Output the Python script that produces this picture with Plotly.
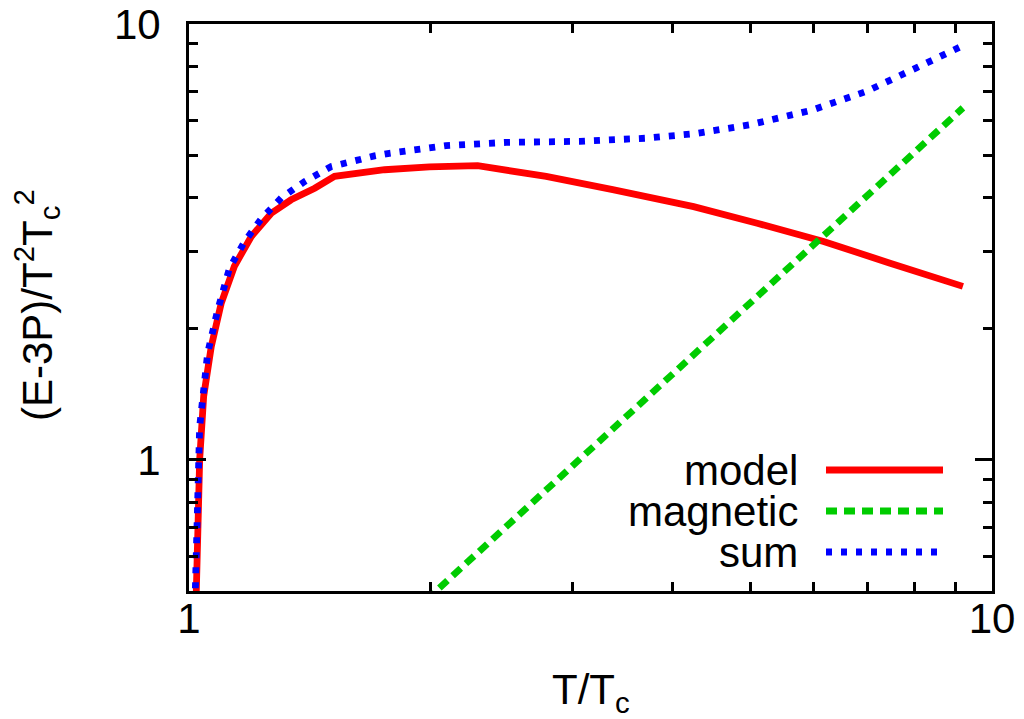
import plotly.graph_objects as go

# ---- data (log-log) ----
model_T = [1.018, 1.0226, 1.027, 1.031, 1.036, 1.043, 1.066, 1.097, 1.139, 1.195, 1.266,
           1.340, 1.434, 1.518, 1.752, 1.993, 2.288, 2.785, 3.37, 4.25, 5.10, 6.17, 7.45, 9.20]
model_v = [0.40, 0.50, 0.75, 1.00, 1.18, 1.40, 1.82, 2.29, 2.78, 3.25, 3.68,
           3.95, 4.20, 4.47, 4.63, 4.70, 4.73, 4.47, 4.17, 3.81, 3.49, 3.17, 2.83, 2.50]

magnetic_T = [1.9, 3.0, 4.0, 5.0, 6.0, 7.0, 8.0, 9.2]
magnetic_v = [0.447, 0.966, 1.571, 2.29, 3.12, 4.04, 5.07, 6.42]

sum_T = [1.015, 1.019, 1.0276, 1.031, 1.055, 1.086, 1.123, 1.173, 1.230, 1.303, 1.393,
         1.504, 1.702, 1.776, 2.09, 2.484, 3.067, 3.71, 4.26, 4.99, 5.96, 6.97, 8.06, 9.2]
sum_v = [0.40, 0.50, 1.00, 1.19, 1.757, 2.21, 2.75, 3.17, 3.57, 3.99, 4.35,
         4.71, 4.98, 5.05, 5.26, 5.35, 5.38, 5.47, 5.60, 5.87, 6.34, 7.00, 7.94, 8.92]

series_names = ["model", "magnetic", "sum"]
series_colors = ["#ff0000", "#00cc00", "#0000ff"]
series_dash = ["solid", "11px,7px", "6px,9px"]

x_major = [1, 10]
x_minor = [2, 3, 4, 5, 6, 7, 8, 9]
y_major = [1, 10]
y_minor = [0.6, 0.7, 0.8, 0.9, 2, 3, 4, 5, 6, 7, 8, 9]

FONT = "Liberation Sans, Arial, Helvetica, sans-serif"
FS = 42
LW = 6.8

# page body has an 8px default margin; size the figure so the window is filled
OFF = 8
W, H = 1024 - OFF, 719 - OFF
ML, MT = 189 - OFF, 24 - OFF
PW, PH = 803, 567
MR, MB = W - ML - PW, H - MT - PH

fig = go.Figure()
for name, T, v, c, d in zip(series_names, [model_T, magnetic_T, sum_T],
                             [model_v, magnetic_v, sum_v], series_colors, series_dash):
    fig.add_trace(go.Scatter(x=T, y=v, mode="lines", name=name,
                             line=dict(color=c, width=LW, dash=d), showlegend=False))

axis_common = dict(
    type="log", showgrid=False, zeroline=False, showline=True, linecolor="black",
    linewidth=3, mirror="ticks", ticks="inside", ticklen=17, tickwidth=2.5,
    tickcolor="black", tickfont=dict(family=FONT, size=FS, color="black"),
    automargin=False, ticklabeloverflow="allow",
)
fig.update_xaxes(**axis_common, range=[0, 1], tickmode="array", tickvals=x_major,
                 ticktext=[str(v) for v in x_major], ticklabelstandoff=-11,
                 minor=dict(tickmode="array", tickvals=x_minor, ticks="inside",
                            ticklen=9, tickwidth=2.5, tickcolor="black"))
fig.update_yaxes(**axis_common, range=[-0.30103, 1], tickmode="array", tickvals=y_major,
                 ticktext=[str(v) for v in y_major], ticklabelstandoff=17,
                 minor=dict(tickmode="array", tickvals=y_minor, ticks="inside",
                            ticklen=9, tickwidth=2.5, tickcolor="black"))

# helpers: reference-screenshot pixel -> paper coordinates
def px_to_paper_x(px):
    return (px - OFF - ML) / PW

def px_to_paper_y(py):
    return (MT + PH - (py - OFF)) / PH

annotations = []
# axis titles
annotations.append(dict(text="T/T<sub>c</sub>", x=0.5, y=px_to_paper_y(692), xref="paper",
                        yref="paper", xanchor="center", yanchor="middle", showarrow=False,
                        font=dict(family=FONT, size=FS, color="black")))
annotations.append(dict(text="(E-3P)/T<sup>2</sup>T<sub>c</sub><sup>2</sup>",
                        x=px_to_paper_x(36), y=px_to_paper_y(305), xref="paper", yref="paper",
                        xanchor="center", yanchor="middle", textangle=-90, showarrow=False,
                        font=dict(family=FONT, size=FS, color="black")))

# manual key (gnuplot style: text then sample)
shapes = []
row_y = [470, 511, 552]
for name, c, d, ry in zip(series_names, series_colors, series_dash, row_y):
    annotations.append(dict(text=name, x=px_to_paper_x(800), y=px_to_paper_y(ry),
                            xref="paper", yref="paper", xanchor="right", yanchor="middle",
                            showarrow=False, font=dict(family=FONT, size=FS, color="black")))
    shapes.append(dict(type="line", xref="paper", yref="paper",
                       x0=px_to_paper_x(826), x1=px_to_paper_x(943),
                       y0=px_to_paper_y(ry), y1=px_to_paper_y(ry),
                       line=dict(color=c, width=LW, dash=d)))

fig.update_layout(width=W, height=H, margin=dict(l=ML, r=MR, t=MT, b=MB, autoexpand=False),
                  plot_bgcolor="white", paper_bgcolor="white",
                  annotations=annotations, shapes=shapes, showlegend=False)

fig.write_html("out.html")
